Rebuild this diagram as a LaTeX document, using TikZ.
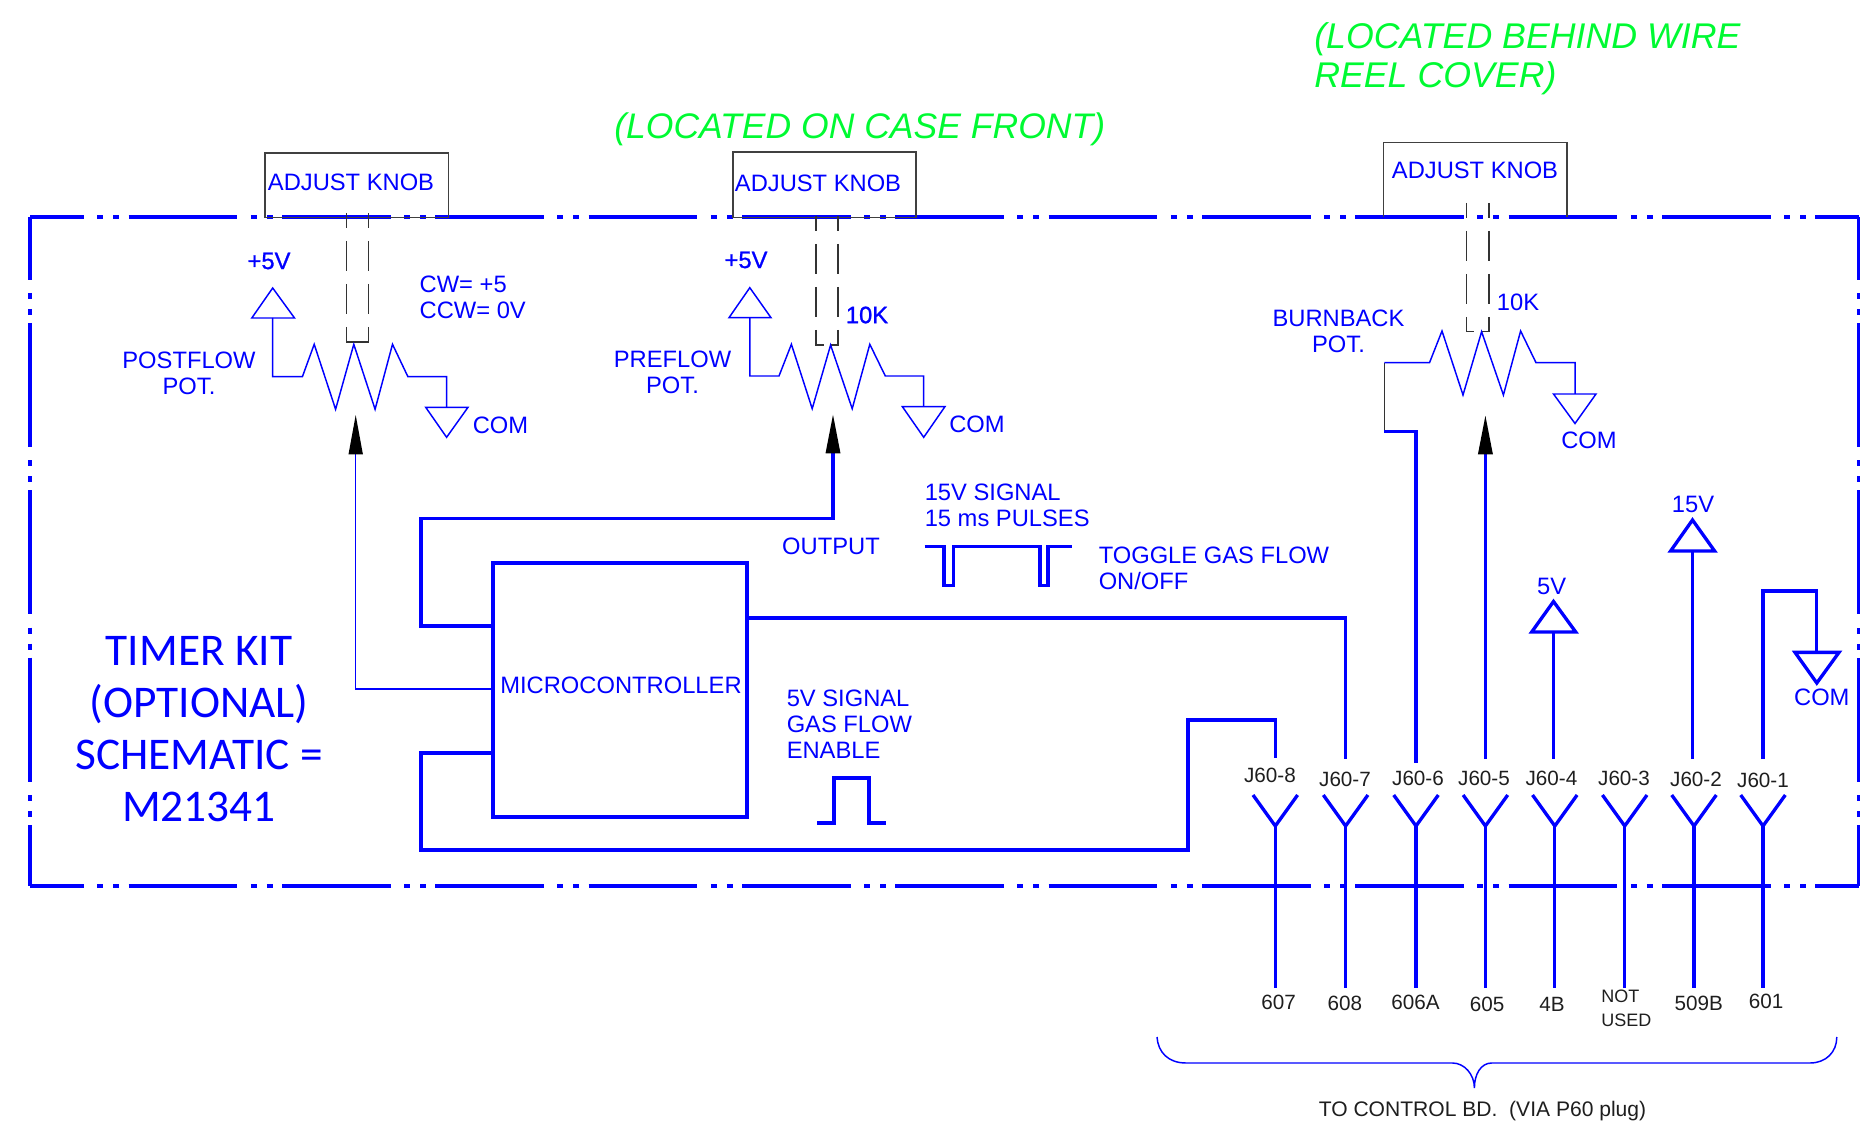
\documentclass[tikz,border=0pt]{standalone}
\usepackage{fontspec}
\setmainfont{Liberation Sans}
\newfontfamily\kitfont{Carlito}
\newfontfamily\heavyfont[FakeBold=1]{Liberation Sans}
\usetikzlibrary{arrows.meta, positioning, calc}
\definecolor{wireblue}{RGB}{0,0,255}
\definecolor{notegreen}{RGB}{0,250,50}
\definecolor{pinblack}{RGB}{30,30,30}
\tikzset{
  lbl/.style={inner sep=0pt,text=wireblue,font=\fontsize{17.8}{19.5}\selectfont},
  heavylbl/.style={inner sep=0pt,text=wireblue,font=\fontsize{17.8}{19.5}\selectfont\heavyfont},
  pinlbl/.style={inner sep=0pt,text=pinblack,font=\fontsize{15.5}{15}\selectfont},
  note/.style={inner sep=0pt,text=notegreen,font=\fontsize{26.8}{29.5}\selectfont\itshape},
  thinwire/.style={draw=wireblue,line width=1.1pt},
  thickwire/.style={draw=wireblue,line width=2.5pt},
  framehoriz/.style={draw=wireblue,line width=2.7pt,dash pattern=on 81.6pt off 10pt on 4.5pt off 7.5pt on 4.5pt off 6.9pt,dash phase=41pt},
  framevert/.style={draw=wireblue,line width=2.7pt,dash pattern=on 93pt off 10pt on 4.5pt off 7.5pt on 4.5pt off 6pt,dash phase=46pt},
  knob/.style={draw=black!75,line width=1pt},
  shaft/.style={draw=black!80,line width=.9pt,dash pattern=on 22.5pt off 9.75pt,dash phase=11.25pt},
  tipblack/.style={-{Triangle[color=black,length=29.5pt,width=10.5pt]}}
}
\begin{document}
\begin{tikzpicture}[x=0.75pt,y=-0.75pt]
\useasboundingbox (0,0) rectangle (1860,1126);
% notes
\node[note,anchor=west,align=left] (noteback) at (1314,59) {(LOCATED BEHIND WIRE\\REEL COVER)};
\node[note,anchor=west,font=\fontsize{26.65}{29.5}\selectfont\itshape] (notefront) at (614,129.5) {(LOCATED ON CASE FRONT)};
% enclosure
\draw[framehoriz] (30,217) -- (1859,217);
\draw[framehoriz] (30,886) -- (1859,886);
\draw[framevert] (30,217) -- (30,886);
\draw[framevert] (1859,217) -- (1859,886);
% knobs
\draw[knob] (265,153) rectangle (448.6,217.5);
\draw[knob,line width=1.4pt] (732.7,152.3) rectangle (916.3,217.5);
\draw[knob] (1383.6,217.5) -- (1383.6,142.2) -- (1567,142.2) -- (1567,217.5);
\node[lbl] (knobA) at (351,182) {ADJUST KNOB};
\node[lbl] (knobB) at (818,183) {ADJUST KNOB};
\node[lbl] (knobC) at (1475,170) {ADJUST KNOB};
\draw[shaft] (346.6,213) -- (346.6,342) -- (358,342);
\draw[shaft] (368.8,213) -- (368.8,342) -- (358,342);
\draw[shaft] (816,216) -- (816,345) -- (824,345);
\draw[shaft] (838,216) -- (838,345) -- (830,345);
\draw[shaft] (1466.7,203) -- (1466.7,331.7) -- (1474,331.7);
\draw[shaft] (1488.9,203) -- (1488.9,331.7) -- (1481.6,331.7);
% postflow pot
\draw[thinwire] (272.7,288) -- (294.5,318) -- (251.8,318) -- cycle;
\draw[thinwire] (272.7,318) -- (272.7,376.7) -- (302.4,376.7) -- (314.2,344.3) -- (335.6,409.3) -- (353.8,344.3) -- (375.1,409.3) -- (392.5,344.3) -- (407.9,376.7) -- (446.6,376.7) -- (446.6,407.3);
\draw[thinwire] (425.7,407.3) -- (468,407.3) -- (446.6,437.3) -- cycle;
\node[heavylbl] (vccA) at (269,261) {+5V};
\node[lbl] (comA) at (500.5,425) {COM};
\node[lbl,anchor=west,align=left] (cw) at (419.4,297) {CW= +5\\CCW= 0V};
\node[lbl,align=center] (potA) at (189,373.5) {POSTFLOW\\POT.};
% preflow pot
\draw[thinwire] (749.8,287.7) -- (771,317.7) -- (729,317.7) -- cycle;
\draw[thinwire] (749.8,317.7) -- (749.8,376) -- (779,376) -- (791.4,344.3) -- (812.2,408.7) -- (830.6,345) -- (852.2,408.7) -- (869.8,344.3) -- (885.3,376) -- (923.7,376) -- (923.7,406.7);
\draw[thinwire] (902.4,406.7) -- (944.9,406.7) -- (923.7,437.3) -- cycle;
\node[heavylbl] (vccB) at (746,260) {+5V};
\node[lbl] (comB) at (977,424) {COM};
\node[heavylbl] (tenkB) at (867,315) {10K};
\node[lbl,align=center] (potB) at (672.5,372.5) {PREFLOW\\POT.};
% burnback pot
\draw[draw=black!80,line width=1pt] (1384.4,431.6) -- (1384.4,362.7);
\draw[thinwire] (1384.4,362.7) -- (1429.5,362.7) -- (1442,331) -- (1463,395) -- (1481.6,331.7) -- (1503.4,395) -- (1520.6,331) -- (1536,362.7) -- (1575,362.7) -- (1575,394);
\draw[thinwire] (1553.5,394) -- (1596,394) -- (1575,423.5) -- cycle;
\node[lbl] (comC) at (1589,440) {COM};
\node[lbl] (tenkC) at (1518,302) {10K};
\node[lbl,align=center] (potC) at (1338.5,331) {BURNBACK\\POT.};
% microcontroller
\node[draw=wireblue,line width=2.5pt,minimum width=190.5pt,minimum height=190.5pt,inner sep=0pt] (micro) at (620,690) {};
\node[lbl] (microtext) at (621,685) {MICROCONTROLLER};
\node[inner sep=0pt,text=wireblue,align=center,font=\fontsize{34}{39}\selectfont\kitfont] (kit) at (199,729.5) {TIMER KIT\\(OPTIONAL)\\SCHEMATIC =\\M21341};
% signal notes
\node[lbl,anchor=west,align=left] (sigA) at (924.5,505) {15V SIGNAL\\15 ms PULSES};
\node[lbl] (output) at (831,546) {OUTPUT};
\node[lbl,anchor=west,align=left] (toggle) at (1098.5,568) {TOGGLE GAS FLOW\\ON/OFF};
\node[lbl,anchor=west,align=left] (sigB) at (786.5,724) {5V SIGNAL\\GAS FLOW\\ENABLE};
\draw[thickwire] (924.5,546.7) -- (944,546.7) -- (944,585.7) -- (953.5,585.7) -- (953.5,546.7) -- (1040,546.7) -- (1040,585.7) -- (1048,585.7) -- (1048,546.7) -- (1072,546.7);
\draw[thickwire] (817,823) -- (834,823) -- (834,778) -- (869,778) -- (869,823) -- (886,823);
% connector pins
\draw[thickwire] (1253,795) -- (1275.3,826) -- (1297.6,795);
\draw[thickwire] (1323.3,795) -- (1345.6,826) -- (1367.9,795);
\draw[thickwire] (1393.7,795) -- (1416,826) -- (1438.3,795);
\draw[thickwire] (1463.1,795) -- (1485.4,826) -- (1507.7,795);
\draw[thickwire] (1532.5,795) -- (1554.8,826) -- (1577.1,795);
\draw[thickwire] (1602.4,795) -- (1624.7,826) -- (1647,795);
\draw[thickwire] (1671.7,795) -- (1694,826) -- (1716.3,795);
\draw[thickwire] (1740.7,795) -- (1763,826) -- (1785.3,795);
\coordinate (pinH) at (1275.3,826);
\coordinate (pinG) at (1345.6,826);
\coordinate (pinF) at (1416,826);
\coordinate (pinE) at (1485.4,826);
\coordinate (pinD) at (1554.8,826);
\coordinate (pinC) at (1624.7,826);
\coordinate (pinB) at (1694,826);
\coordinate (pinA) at (1763,826);
\coordinate (wireend) at (0,988);
\draw[thickwire] (pinH) -- (pinH |- wireend);
\draw[thickwire] (pinG) -- (pinG |- wireend);
\draw[thickwire] (pinF) -- (pinF |- wireend);
\draw[thickwire] (pinE) -- (pinE |- wireend);
\draw[thickwire] (pinD) -- (pinD |- wireend);
\draw[thickwire] (pinC) -- (pinC |- wireend);
\draw[thickwire] (pinB) -- (pinB |- wireend);
\draw[thickwire] (pinA) -- (pinA |- wireend);
\node[pinlbl] (wireH) at (1278.7,1002) {607};
\node[pinlbl] (wireG) at (1344.8,1003.7) {608};
\node[pinlbl] (wireF) at (1415.5,1002.7) {606A};
\node[pinlbl] (wireE) at (1487,1004) {605};
\node[pinlbl] (wireD) at (1552,1004) {4B};
\node[pinlbl,align=left,anchor=west,font=\fontsize{13.5}{18}\selectfont] (wireC) at (1601,1008) {NOT\\USED};
\node[pinlbl] (wireB) at (1698.7,1003) {509B};
\node[pinlbl] (wireA) at (1766,1001.7) {601};
\node[pinlbl] (jH) at (1270,775.7) {J60-8};
\node[pinlbl] (jG) at (1345,779) {J60-7};
\node[pinlbl] (jF) at (1418,778) {J60-6};
\node[pinlbl] (jE) at (1484,778) {J60-5};
\node[pinlbl] (jD) at (1551.4,778) {J60-4};
\node[pinlbl] (jC) at (1624,778) {J60-3};
\node[pinlbl] (jB) at (1696,779) {J60-2};
\node[pinlbl] (jA) at (1763,780) {J60-1};
% wiring to the board
\draw[thinwire,tipblack] (micro.west |- 0,689) -- (355.7,689) -- (355.7,415);
\draw[thickwire,tipblack] (micro.west |- 0,626) -- (421,626) -- (421,518.3) -- (833,518.3) -- (833,414);
\draw[thickwire] (micro.west |- 0,753) -- (421,753) -- (421,850) -- (1188,850) -- (1188,720) -- (1275.3,720) -- (1275.3,758);
\draw[thickwire] (micro.east |- 0,618) -- (1345.6,618) -- (1345.6,759);
\draw[thickwire] (1384.4,431.6) -- (1416,431.6) -- (1416,763);
\draw[thickwire,tipblack] (1485.4,759) -- (1485.4,415);
\draw[thickwire] (1553.5,759) -- (1553.5,632);
\draw[thickwire] (1531.7,632) -- (1575.7,632) -- (1553.5,601.5) -- cycle;
\node[lbl] (fiveV) at (1551.6,586) {5V};
\draw[thickwire] (1692.4,759) -- (1692.4,551);
\draw[thickwire] (1670.6,551) -- (1714.6,551) -- (1692.5,520) -- cycle;
\node[lbl] (fifteenV) at (1693,504) {15V};
\draw[thickwire] (1763,759) -- (1763,591) -- (1816.8,591) -- (1816.8,652.4);
\draw[thickwire] (1795,652.4) -- (1839,652.4) -- (1816.8,683) -- cycle;
\node[lbl] (comD) at (1821.8,697) {COM};
% brace
\draw[thinwire] (1157,1037) .. controls (1158,1052) and (1168,1063) .. (1186,1063) -- (1452.5,1063) .. controls (1464,1063) and (1474.4,1074) .. (1474.4,1088) .. controls (1474.4,1074) and (1481,1063) .. (1491.7,1063) -- (1810,1063) .. controls (1826,1063) and (1836.8,1052) .. (1836.8,1037);
\node[pinlbl,font=\fontsize{15.8}{15}\selectfont] (toboard) at (1482.5,1110.7) {TO CONTROL BD.~~(VIA P60 plug)};
\end{tikzpicture}
\end{document}
